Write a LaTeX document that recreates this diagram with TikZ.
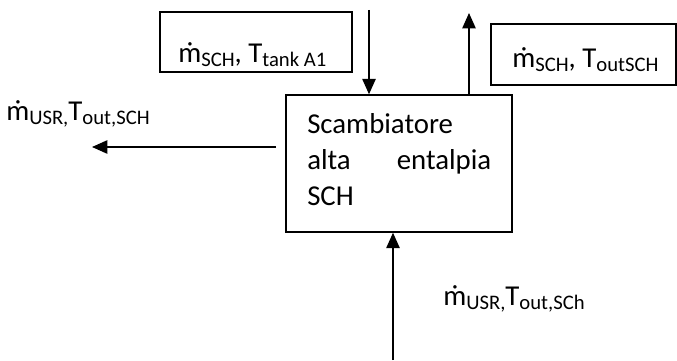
\documentclass[tikz,border=0pt]{standalone}
\usepackage{fontspec}
\setmainfont{Carlito}
\usetikzlibrary{arrows.meta}

% lowered small text for flow subscripts
\newcommand{\lowtxt}[1]{\raisebox{-0.3ex}{\fontsize{15.5}{15.5}\selectfont #1}}

\tikzset{
  blk/.style={draw, line width=1.1pt, inner sep=0pt},
  flow/.style={line width=1.1pt, -{Triangle[length=11.5pt,width=10pt]}},
  lbl/.style={anchor=base west, inner sep=0pt, font=\fontsize{21.6}{27}\selectfont},
}

\begin{document}
\begin{tikzpicture}[x=0.75pt,y=0.75pt,yscale=-1,xscale=1]
\useasboundingbox (0,0) rectangle (677,360);

% boxes
\node[blk, minimum width=144pt, minimum height=45pt] (inbox) at (256,42) {};
\node[blk, minimum width=138.75pt, minimum height=45.75pt] (outbox) at (583.5,54.5) {};
\node[blk, minimum width=169.5pt, minimum height=102.75pt] (scamb) at (399,163.5) {};

% texts
\node[lbl] (inlbl) at (178,62) {ṁ\lowtxt{SCH}, T\lowtxt{tank A1}};
\node[lbl] (outlbl) at (512,67) {ṁ\lowtxt{SCH}, T\lowtxt{outSCH}};
\node[lbl] (usrlbl) at (6,120) {ṁ\lowtxt{USR,}T\lowtxt{out,SCH}};
\node[lbl] (retlbl) at (443,305) {ṁ\lowtxt{USR,}T\lowtxt{out,SCh}};
\node[lbl, text width=138pt, align=left] (scambtxt) at (307,133) {Scambiatore\\alta\hfill entalpia\\SCH};

% flows
\coordinate (intop) at (369,10);
\coordinate (outtop) at (469,13);
\coordinate (usrstart) at (276,147);
\coordinate (usrend) at (92,147);
\coordinate (retbot) at (393,360);
\draw[flow] (intop) -- (intop |- scamb.north);
\draw[flow] (outtop |- scamb.north) -- (outtop);
\draw[flow] (usrstart) -- (usrend);
\draw[flow] (retbot) -- (retbot |- scamb.south);

\end{tikzpicture}
\end{document}
